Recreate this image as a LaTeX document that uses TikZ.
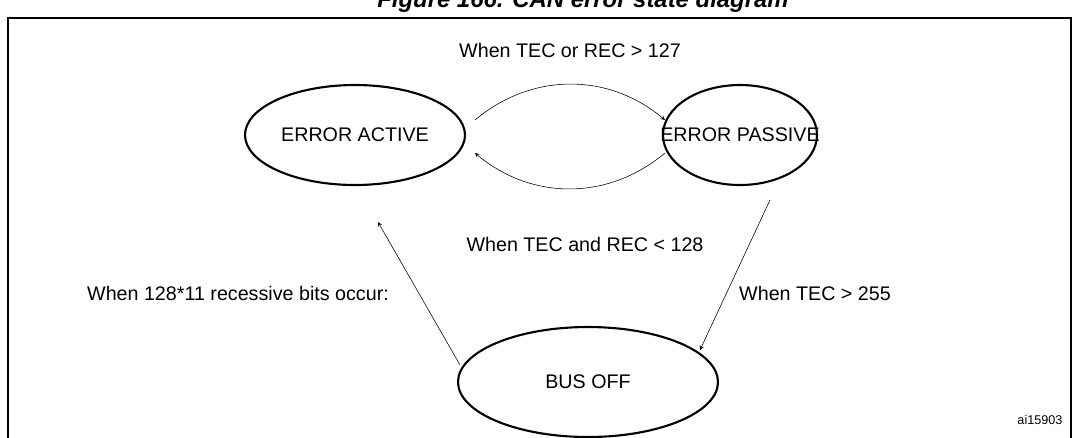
\documentclass[tikz,border=0pt]{standalone}
\usepackage{fontspec}
\setmainfont{Liberation Sans}
\usetikzlibrary{shapes.geometric}

\begin{document}
\begin{tikzpicture}[x=0.025cm, y=-0.025cm, >=stealth,
    ring/.style={line width=1.5pt},
    state/.style={font=\fontsize{14}{16}\selectfont, inner sep=0pt},
    lbl/.style={font=\fontsize{14}{16}\selectfont}]
    \useasboundingbox (0,0) rectangle (1079,437);
    \clip (0,0) rectangle (1079,437);
    % title, cut at the top
    \node[font=\fontsize{17}{19}\bfseries\itshape\selectfont, anchor=base] (title) at (583,7) {Figure 166. CAN error state diagram};
    % frame
    \draw[thick] (8,440) -- (8,18) -- (1071,18) -- (1071,440);

    % states
    \draw[ring] (355,135) ellipse [x radius=110, y radius=50];
    \node[state] (active) at (355,135) {ERROR ACTIVE};
    \draw[ring] (740,135) ellipse [x radius=77, y radius=50];
    \node[state] (passive) at (740,135) {ERROR PASSIVE};
    \draw[ring] (588,382) ellipse [x radius=130, y radius=55];
    \node[state] (busoff) at (588,382) {BUS OFF};

    % transitions
    \coordinate (a2) at (475,120);
    \coordinate (p2) at (665,120);
    \coordinate (p3) at (665,153);
    \coordinate (a3) at (475,153);
    \draw[->] (a2) to[out=40, in=140] (p2);
    \draw[->] (p3) to[out=-140, in=-40] (a3);
    \coordinate (p1) at (770,200);
    \coordinate (b1) at (700,350);
    \draw[->] (p1) -- (b1);
    \coordinate (b2) at (460,365);
    \coordinate (a1) at (378,222);
    \draw[->] (b2) -- (a1);

    % labels
    \node[lbl] (l1) at (570,50) {When TEC or REC > 127};
    \node[lbl] (l2) at (585,244) {When TEC and REC < 128};
    \node[lbl] (l3) at (815,293) {When TEC > 255};
    \node[lbl] (l4) at (238,293) {When 128*11 recessive bits occur:};
    \node[font=\fontsize{9}{11}\selectfont] (ref) at (1040,420) {ai15903};
\end{tikzpicture}
\end{document}
